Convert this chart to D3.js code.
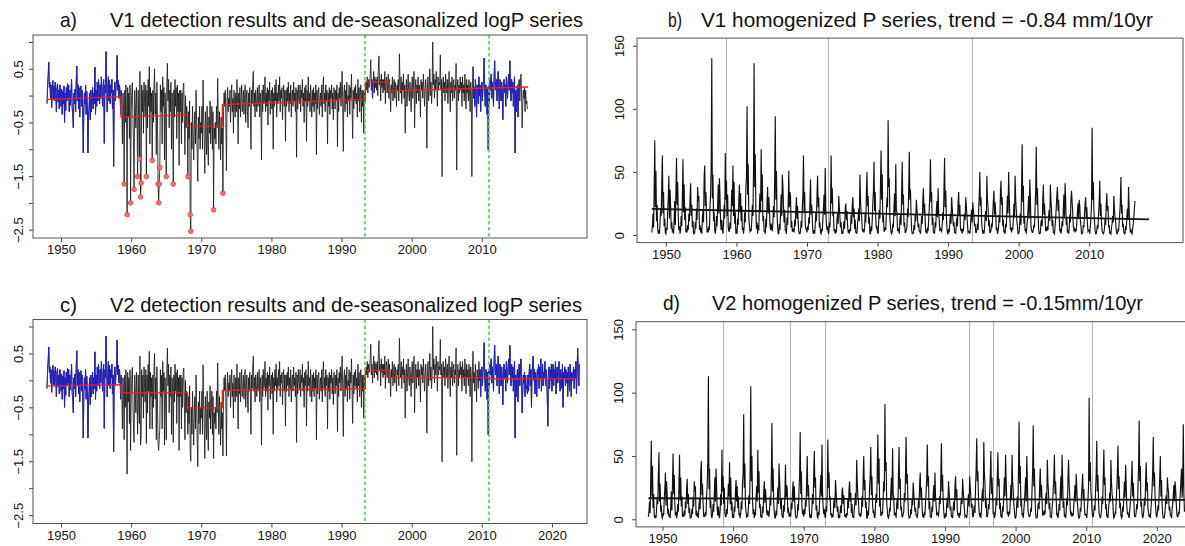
<!DOCTYPE html>
<html><head><meta charset="utf-8">
<script src="https://cdn.jsdelivr.net/npm/d3@7"></script>
<style>
html,body{margin:0;padding:0;background:#fff;}
svg{display:block;}
text{font-family:"Liberation Sans",Arial,sans-serif;}
</style></head><body>
<svg id="chart" width="1185" height="546"></svg>
<script>
// ---------- DATA (monthly, starting Jan 1948) ----------
const startYear = 1948;

// V1 de-seasonalized logP series, Jan 1948 - Jul 2016 (outliers included)
const logP_V1 = [
-.15,.2,.38,.62,.15,.25,-.05,.2,-.22,.1,.28,-.08,
.18,-.1,.25,.05,-.3,.15,.22,-.12,.1,-.25,.2,.05,
-.2,.12,-.35,.08,-.15,.18,-.5,.05,-.28,.15,-.1,.22,
-.05,.2,-.3,.1,-.18,.05,.3,-.22,-.35,-.6,.05,-.15,
.12,-.3,.28,.55,-.1,.2,-.25,.15,-.4,.05,.18,-.2,
.1,-.25,-1.07,-.3,.05,-.15,.2,-.35,.08,-.2,-1.07,-.4,
-.2,.05,-.45,.1,-.3,-.1,.15,-.25,.05,-.15,.53,-.35,
.1,-.2,.25,-.1,.3,.12,-.15,.2,-.05,.35,.1,-.2,
.15,.3,-.89,.2,.05,.82,.25,-.3,.1,.35,-.1,.28,
-.15,.2,.05,.3,-.25,.1,-1.32,.05,.25,-.1,.15,.3,
.75,.1,.28,-.05,.2,.05,-.35,.1,-.2,-.9,.05,-.3,
-1.65,.1,-.5,.2,-.3,-2.22,.15,-.4,.05,-.8,.2,-2.0,
-.3,.05,.24,-.4,-.9,-1.75,.1,-.2,-.6,.15,-.35,-1.51,
.1,-.5,-1.18,.45,-1.89,-1.63,.2,-.3,.1,-.7,.25,-.15,
-.4,.2,-1.51,.1,-.6,.3,-.2,.54,-.9,.15,-.3,.05,
-1.21,.1,-.5,.2,.5,-.35,.05,-1.1,.25,-.4,-1.65,-2.0,
-1.65,-1.34,.2,-.3,.1,-.9,.35,-.2,.15,-1.2,.05,-.4,
-1.51,.2,.6,-.1,.3,-.6,.1,-.3,.25,-1.0,.05,-.2,
-1.65,.1,-.4,.3,-.2,.15,-.8,.2,-.3,.05,-1.3,.1,
-.3,.1,-.9,.05,-.5,.15,.23,-.4,-1.1,0,-.6,-.2,
-.4,-1.51,-.3,-.8,-.1,-2.22,-2.53,-.5,-1.0,-.2,-.7,-1.2,
-.6,-.3,-.9,.1,-.5,-1.1,-1.6,-.4,-.8,-.2,-1.0,-.5,
-.7,-.2,-1.0,.29,-.4,-.8,-1.45,-.3,-.6,-1.1,-.2,-.9,
-1.3,-.4,-.7,-.1,-.9,-.5,-.2,-1.0,-.3,-2.13,-.6,-.8,
-.5,-.9,-.2,-.6,.32,-.4,-1.0,-.3,-.7,-1.2,-.4,-.9,
-.6,-1.82,-.3,.05,-.2,.1,-.4,-1.4,-.1,.15,-.3,-.05,
-.2,.1,-.5,-.1,.2,-.3,-.05,-.7,.1,-.2,-.4,.05,
-.3,.3,-.1,-.9,.05,-.25,.15,-.4,-.1,.2,-.3,-.15,
.1,-.35,-.05,.2,-.5,-.1,.1,-.3,-.6,.05,-.2,.15,
-.25,-1.0,.1,-.15,.25,.45,-.2,.05,-.4,.1,-.1,-.3,
.15,-.2,-.05,.2,-.4,.05,-.1,-1.2,.1,-.3,.2,-.15,
-.1,.35,-.3,.05,-.2,.15,-.55,.1,-.1,.25,-.35,0,
.1,-.25,.15,-1.0,.05,-.2,.2,-.1,.3,-.4,.05,-.15,
.2,-.1,.35,-.3,.1,-.05,.15,-.45,.05,.2,-.2,.1,
-.85,.1,-.2,.15,-.1,.25,-.3,.05,-.15,.2,-.4,0,
.1,-.2,.25,-.1,.05,-.3,.15,-1.15,.1,-.25,.2,-.05,
-.15,.2,-.3,.1,-.05,.3,-.2,.05,-.5,.15,-.1,.2,
-.85,.1,-.2,.35,-.1,.05,-.3,.2,-.05,-.4,.1,-.2,
.15,-.3,.05,-.15,.2,-1.1,.1,-.25,.05,.15,-.35,-.1,
.05,-.2,.2,-.4,.1,.35,-.15,.05,-.3,.2,-.1,.1,
-.9,.05,-.2,.15,-.35,.1,-.05,.2,-.25,.05,-.45,.15,
.05,-.25,.1,-.1,.2,-.95,.05,-.3,.15,-.05,.25,-.2,
.1,.45,-.2,-1.04,.05,.2,-.3,.1,-.15,.25,-.4,0,
-.1,.2,-.35,.15,-.05,.4,-.2,-.8,.1,-.25,.15,-.1,
.2,-.15,.05,-.4,.3,-.1,.15,-.3,.05,.2,-.5,.1,
-.2,.1,-.7,.05,-.15,.15,.25,.1,.35,.05,.3,.15,
.2,.4,.67,.1,.3,-.05,.25,.45,.05,.35,.15,.3,
.1,.35,0,.5,.74,.2,.3,-.1,.4,.15,.3,.05,
.3,.1,.45,-.15,.25,.35,.05,.2,.4,-.05,.3,.1,
-.3,.2,.05,.35,-.1,.15,.3,-.05,.25,.1,-.2,.2,
.1,.3,-.1,.78,.2,.05,.35,-.15,.25,.1,.4,-.05,
.2,-.7,.1,.3,-.2,.15,.4,.05,-.1,.25,.1,-.3,
.15,.35,-.05,.2,.45,-.6,.1,.3,-.15,.2,.05,.35,
-.1,.2,.05,-.4,.3,.1,.25,-.05,.4,.15,-.2,.1,
.3,.05,-.98,.2,.35,-.1,.15,.5,0,.25,-.15,.1,
1.0,.2,.4,-.05,.3,.1,.45,.2,-.2,.35,.1,.25,
.2,.76,.1,.3,-1.51,.15,.35,.05,.25,-.1,.4,.2,
.05,.3,-.15,.2,.45,.1,-.3,.25,.05,.35,-.1,.2,
.3,-.05,.2,.1,.6,-1.39,.15,.3,-.1,.2,.05,.35,
.1,.25,-.2,.35,.05,.2,-.1,.4,.15,-.25,.3,.05,
.2,-.1,.3,.1,-.3,.25,.05,-1.51,.2,.54,-.05,.15,
-.2,.3,.05,-.4,.2,.1,-.15,.35,0,.2,-.3,.1,
.25,-.1,.15,.3,.7,.05,-.2,.2,.1,-.35,.15,-1.01,
.2,-.15,.3,.1,.4,-.05,.25,.1,-.2,.35,.65,.2,
.1,.3,-.1,.2,.45,.05,-.25,.3,.15,-.1,.25,.05,
-.45,.15,.3,.05,.2,-.2,.35,.1,-.05,.25,.4,.1,
.65,.2,-.1,.3,.05,.25,-.2,.15,.35,-1.07,.1,-.3,
.05,.2,-.4,.15,.3,-.1,.2,.4,.05,-.6,-.2,.1,
-.05,.15,-.3,.1,-.15,-.1,-.25
];

// detected outliers (year, month) and their V2-adjusted values
const outlierYear  = [1959,1959,1959,1960,1960,1961,1961,1961,1962,1963,1963,1963,1964,1964,1965,1966,1968,1968,1968,1971,1973];
const outlierMonth = [1,6,12,6,12,3,5,6,3,1,11,12,1,2,1,1,2,6,7,10,2];
const outlierAdjV2 = [-1.1,-1.74,-1.3,-1.15,-1.0,-.8,-1.2,-1.05,-1.17,-.9,-1.17,-1.3,-1.1,-.9,-1.1,-1.15,-1.0,-1.35,-1.5,-1.45,-1.4];

// V2 logP continuation, Aug 2016 - Dec 2023
const logP_V2_tail = [
.1,-.2,.15,.3,-.1,
.2,-.5,.1,.3,.45,0,.2,-.25,.15,.05,-.3,.2,
.1,.3,-.15,.25,.05,.4,-.2,.1,.3,-.1,.15,.05,
.35,-.1,.2,.05,-.3,-.85,.1,.25,-.15,.2,0,.3,
-.2,.15,.3,-.1,.2,.05,.35,-.25,.1,.25,-.05,.15,
.35,.05,-.2,.2,.1,-.15,.3,-.5,.15,.05,.25,-.1,
.2,-.05,.15,-.3,.25,.1,-.2,.3,.05,-.3,.15,0,
.1,.25,-.15,.2,.05,.35,-.25,.15,.6,.2,-.1,.3
];

// V1 homogenized P (mm), Jan 1948 - Jul 2016
const P_V1 = [
2,7,17,6,36,75,22,51,11,24,5,1,
4,1,10,21,15,42,63,17,34,7,13,2,
1,6,4,19,29,47,13,36,23,5,10,2,
5,1,11,27,8,34,61,24,42,15,4,7,
1,4,15,7,31,60,18,40,12,22,2,5,
2,8,4,17,11,29,41,15,24,6,11,1,
1,2,10,5,21,12,38,27,31,4,8,2,
6,1,13,19,10,46,55,23,34,16,2,5,
2,7,4,22,33,54,140,29,48,11,18,4,
1,5,15,7,23,40,17,45,31,10,4,12,
4,1,8,24,13,65,28,43,15,32,6,3,
3,10,5,19,36,23,55,15,42,9,18,1,
5,1,13,8,28,40,18,33,11,23,4,6,
1,6,18,10,37,46,102,32,56,14,8,3,
4,3,11,24,15,51,136,38,64,19,5,10,
1,8,4,22,33,18,68,27,48,11,15,3,
3,1,13,6,27,38,17,30,22,8,4,9,
5,3,10,23,14,44,94,28,51,18,6,1,
1,9,4,18,32,15,48,39,23,10,20,4,
3,1,14,8,24,51,22,34,30,6,11,3,
3,5,2,12,7,20,30,13,23,10,3,1,
1,3,11,6,22,31,63,18,34,9,5,5,
2,7,4,14,9,27,44,16,24,12,3,1,
4,1,8,18,11,32,47,22,30,6,10,2,
1,5,3,13,22,32,16,53,19,8,4,7,
2,1,10,6,20,63,25,37,15,18,3,5,
1,4,2,12,17,9,31,22,14,6,10,1,
3,1,7,11,5,21,25,12,19,8,2,4,
1,5,3,16,9,24,30,14,21,5,12,2,
2,1,9,13,21,11,48,29,18,15,4,3,
4,2,6,18,10,32,50,23,31,9,14,1,
1,7,3,12,26,35,58,19,34,12,5,6,
2,1,11,20,13,40,67,28,48,10,16,3,
3,6,4,17,30,22,91,38,45,13,7,2,
1,3,9,6,22,33,15,56,20,18,3,5,
5,1,12,16,8,35,58,24,32,7,10,2,
2,4,6,21,14,37,66,28,36,16,4,1,
1,2,8,4,16,11,28,21,14,6,9,3,
3,1,6,15,9,28,37,17,25,12,2,4,
1,6,3,13,21,33,60,26,34,8,14,2,
2,1,10,6,19,27,14,37,18,11,3,5,
4,3,8,18,12,36,61,22,35,15,6,1,
1,5,2,11,17,9,30,22,14,7,10,2,
2,1,9,14,7,26,34,15,24,6,3,5,
1,4,3,11,17,12,30,23,16,8,2,3,
3,1,6,14,20,10,26,20,14,7,9,2,
2,5,9,4,20,31,50,23,30,11,5,2,
3,1,5,15,19,11,47,28,22,7,12,2,
2,4,9,6,17,27,35,16,26,17,4,6,
1,3,7,16,10,33,43,24,30,7,12,2,
3,1,9,6,20,31,17,50,29,15,4,5,
2,6,4,13,25,14,47,28,20,11,7,1,
1,3,11,17,8,37,72,26,39,9,15,3,
5,1,7,12,20,31,13,44,29,7,4,2,
2,4,8,6,22,35,70,24,37,18,5,1,
1,2,10,12,7,27,40,16,25,14,3,6,
3,7,4,15,20,11,40,27,20,7,12,2,
2,1,7,13,22,31,38,19,28,15,3,4,
1,4,11,7,21,32,14,41,29,8,13,2,
3,1,6,16,10,28,35,26,18,7,4,5,
2,5,3,11,18,25,13,28,23,12,7,1,
1,2,8,6,17,24,30,14,22,9,3,4,
4,1,7,14,24,85,28,42,20,12,4,1,
1,4,8,5,17,25,43,15,25,10,3,2,
1,2,5,13,8,24,33,19,23,6,8,1,
2,1,6,9,15,10,31,20,14,11,4,1,
1,4,3,10,17,26,46,17,24,6,9,2,
1,1,7,4,14,21,12,38,20,8,3,4,
2,1,5,9,15,22,27
];

// V2 homogenized P (mm), Jan 1948 - Dec 2023
const P_V2 = [
2,6,14,5,30,62,18,42,9,20,4,1,
3,1,8,17,12,35,53,14,28,6,11,2,
1,5,3,16,24,37,11,30,19,4,8,2,
4,1,9,22,7,28,52,20,35,12,3,6,
1,3,12,6,26,51,15,33,10,18,2,4,
2,7,3,14,9,24,32,12,20,5,9,1,
1,2,8,4,17,10,30,22,26,3,7,2,
5,1,11,16,8,38,46,19,28,13,2,4,
2,6,3,18,27,45,113,24,40,9,15,3,
1,4,12,6,19,33,14,40,26,8,3,10,
3,1,7,20,11,55,22,34,12,25,5,2,
2,8,4,15,28,18,45,12,33,7,14,1,
4,1,10,6,22,31,14,26,9,18,3,5,
1,5,14,8,29,36,83,25,44,11,6,2,
3,2,9,19,12,40,105,30,50,15,4,8,
1,6,3,17,26,14,55,21,38,9,12,2,
2,1,10,5,21,30,13,24,17,6,3,7,
4,2,8,18,11,35,76,22,40,14,5,1,
1,7,3,14,25,12,44,31,18,8,16,3,
2,1,11,6,19,43,17,27,24,5,9,2,
3,5,2,13,8,22,30,14,26,11,3,1,
1,3,12,7,24,34,69,20,38,10,5,6,
2,8,4,15,10,30,50,18,27,13,3,1,
4,1,9,20,12,36,54,25,33,7,11,2,
1,6,3,14,24,35,18,59,21,9,4,8,
2,1,10,6,20,63,25,37,15,18,3,5,
1,4,2,12,17,9,31,22,14,6,10,1,
3,1,7,11,5,21,25,12,19,8,2,4,
1,5,3,16,9,24,30,14,21,5,12,2,
2,1,9,13,21,11,47,29,18,15,4,3,
4,2,6,18,10,32,50,23,31,9,14,1,
1,7,3,12,26,35,57,19,34,12,5,6,
2,1,11,20,13,40,67,28,48,10,16,3,
3,6,4,17,30,22,91,38,45,13,7,2,
1,3,9,6,22,33,15,56,20,18,3,5,
5,1,12,16,8,35,57,24,32,7,10,2,
2,4,6,21,14,37,65,28,36,16,4,1,
1,2,8,4,16,11,29,21,14,6,9,3,
3,1,6,15,9,28,37,17,25,12,2,4,
1,6,3,13,21,33,59,26,34,8,14,2,
2,1,10,6,19,27,14,37,18,11,3,5,
4,3,8,18,12,36,60,22,35,15,6,1,
1,5,2,11,17,9,30,22,14,7,10,2,
2,1,9,14,7,26,34,15,24,6,3,5,
1,4,3,11,17,12,32,23,16,8,2,3,
3,1,6,14,20,10,34,25,18,9,12,2,
2,7,11,5,26,40,64,30,38,14,6,3,
4,1,7,19,24,14,61,36,28,9,15,2,
2,5,12,8,22,34,54,20,33,18,4,6,
1,3,7,17,11,35,53,26,32,8,13,2,
3,1,10,6,22,33,18,51,31,16,4,5,
2,6,4,14,27,15,51,30,22,12,7,1,
1,3,12,18,9,40,77,28,42,10,16,3,
5,1,7,13,22,33,14,50,31,8,4,2,
2,4,9,6,24,38,74,26,40,19,5,1,
1,2,11,13,8,29,40,17,27,15,3,6,
3,7,4,16,21,12,47,29,22,8,13,2,
2,1,8,14,24,33,51,20,30,16,3,4,
1,4,12,7,23,34,15,51,31,9,14,2,
3,1,6,17,11,30,47,28,19,7,4,5,
2,5,3,12,19,27,14,36,25,13,7,1,
1,2,9,6,18,26,36,15,24,10,3,4,
4,1,8,15,26,96,30,45,21,17,6,2,
2,6,11,7,24,36,62,22,35,14,4,3,
1,3,7,18,12,34,55,27,33,8,12,2,
3,1,9,13,21,14,47,29,20,16,5,1,
2,5,4,14,24,37,58,24,34,9,13,3,
1,2,10,6,20,30,17,43,28,11,4,5,
3,1,7,13,21,31,46,18,29,15,3,2,
2,6,12,8,26,41,78,30,42,10,14,4,
1,3,7,17,11,31,45,22,29,8,5,2,
4,1,8,14,24,38,65,26,37,19,9,3,
2,5,11,7,22,33,50,18,31,12,4,1,
1,2,6,15,19,12,33,25,21,7,10,3,
3,1,8,12,19,27,14,30,24,13,4,2,
2,6,4,13,22,30,40,17,28,75,20,6
];

// step means (red), breakpoints and trend lines
const stepTimesA = [1948.0, 1958.55, 1968.05, 1973.0, 1993.4, 1996.8, 2016.6];
const stepFromA  = [-0.07, -0.40, -0.57, -0.17, 0.25, 0.09];
const stepToA    = [-0.02, -0.36, -0.57, -0.07, 0.25, 0.16];
const stepTimesC = [1948.0, 1958.55, 1968.05, 1973.0, 1993.4, 1996.8, 2011.0, 2023.92];
const stepFromC  = [-0.105, -0.23, -0.51, -0.185, 0.185, 0.05, 0.03];
const stepToC    = [-0.08, -0.23, -0.51, -0.155, 0.185, 0.05, 0.03];
const greenBreaks = [1993.4, 2011.0];
const grayBreaksB = [1958.5, 1973.0, 1993.4];
const grayBreaksD = [1958.5, 1968.0, 1973.0, 1993.4, 1996.8, 2010.8];
const blueSpansA = [[1948.0, 1958.55], [1994.2, 1994.5], [2008.7, 2015.4]];
const blueSpansC = [[1948.0, 1958.55], [2009.6, 2023.92]];
const trendTimesB = [1948.0, 2018.5], trendValsB = [20.7, 12.4];
const trendTimesD = [1948.0, 2024.5], trendValsD = [16.6, 15.3];

const yearTicksAB = [1950,1960,1970,1980,1990,2000,2010];
const yearTicksCD = [1950,1960,1970,1980,1990,2000,2010,2020];
const logTicks = [1.0,0.5,0,-0.5,-1.0,-1.5,-2.0,-2.5];
const logLabels = [0.5,-0.5,-1.5,-2.5];
const pTicks = [0,50,100,150];

const titles = {
  a: ["a)", "V1 detection results and de-seasonalized logP series"],
  b: ["b)", "V1 homogenized P series, trend = -0.84 mm/10yr"],
  c: ["c)", "V2 detection results and de-seasonalized logP series"],
  d: ["d)", "V2 homogenized P series, trend = -0.15mm/10yr"]
};

// ---------- BUILD ----------
const svg = d3.select("#chart");
const toSeries = vals => vals.map((v, i) => ({t: startYear + i / 12, v}));
const snap = v => Math.round(v) + 0.5;

const logP_V2 = logP_V1.slice();
outlierYear.forEach((yr, k) => { logP_V2[(yr - startYear) * 12 + outlierMonth[k] - 1] = outlierAdjV2[k]; });
const logP_V2_full = logP_V2.concat(logP_V2_tail);
const outliers = outlierYear.map((yr, k) => {
  const i = (yr - startYear) * 12 + outlierMonth[k] - 1;
  return {t: startYear + i / 12, v: logP_V1[i]};
});

function panel(o) {
  const x = d3.scaleLinear().domain(o.xDomain).range([o.x0, o.x1]);
  const y = d3.scaleLinear().domain(o.yDomain).range([o.y1, o.y0]);
  const id = "clip" + o.key;
  svg.append("clipPath").attr("id", id).append("rect")
    .attr("x", o.x0).attr("y", o.y0).attr("width", o.x1 - o.x0).attr("height", o.y1 - o.y0);
  const g = svg.append("g");
  const plot = g.append("g").attr("clip-path", `url(#${id})`);

  const ax = g.append("g").attr("transform", `translate(0,${o.y1})`)
    .call(d3.axisBottom(x).tickValues(o.xTicks).tickSize(4).tickFormat(d3.format("d")));
  ax.select(".domain").remove();
  ax.selectAll("line").attr("stroke", "#444");
  ax.selectAll("text").attr("y", 16).attr("dy", null).attr("font-size", 13).attr("fill", "#111");

  const ay = g.append("g").attr("transform", `translate(${o.x0},0)`)
    .call(d3.axisLeft(y).tickValues(o.yTicks).tickSize(4).tickFormat(o.yFmt));
  ay.select(".domain").remove();
  ay.selectAll("line").attr("stroke", "#444");
  ay.selectAll("text").attr("x", null).attr("dy", null).attr("font-size", 13).attr("fill", "#111")
    .attr("text-anchor", "middle").attr("transform", `translate(${-o.yOff},0) rotate(-90)`);

  g.append("rect").attr("x", o.x0).attr("y", o.y0).attr("width", o.x1 - o.x0).attr("height", o.y1 - o.y0)
    .attr("fill", "none").attr("stroke", "#555").attr("stroke-width", 1);

  const tt = titles[o.key];
  [0, 1].forEach(k => g.append("text").attr("x", o.tx[k]).attr("y", o.ty).attr("font-size", 21).attr("fill", "#111")
    .attr("textLength", o.tw[k]).attr("lengthAdjust", "spacingAndGlyphs")
    .style("font-family", '"Liberation Sans Narrow","Liberation Sans",Arial,sans-serif').text(tt[k]));
  return {x, y, plot};
}

const line = (x, y) => d3.line().x(d => x(d.t)).y(d => y(d.v));
const fmtLog = d => logLabels.includes(d) ? d3.format(".1f")(d) : "";

function logPanel(o, series, blueSpans, stepT, stepF, stepE, withOutliers) {
  const {x, y, plot} = panel(o);
  const data = toSeries(series);
  plot.append("path").datum(data).attr("d", line(x, y)).attr("fill", "none")
    .attr("stroke", "#1a1a1a").attr("stroke-width", 0.85);
  blueSpans.forEach(([a, b]) => {
    const seg = data.filter(d => d.t >= a - 1e-6 && d.t <= b + 1e-6);
    plot.append("path").datum(seg).attr("d", line(x, y)).attr("fill", "none")
      .attr("stroke", "#1f1fd6").attr("stroke-width", 0.85);
  });
  greenBreaks.forEach(b => plot.append("line").attr("x1", Math.round(x(b))).attr("x2", Math.round(x(b)))
    .attr("y1", o.y0).attr("y2", o.y1).attr("stroke", "#5ccc5c").attr("stroke-width", 1.6)
    .attr("stroke-dasharray", "3.5,2.5"));
  const steps = [];
  stepF.forEach((v, i) => { steps.push({t: stepT[i], v}); steps.push({t: stepT[i + 1], v: stepE[i]}); });
  plot.append("path").datum(steps).attr("d", line(x, y)).attr("fill", "none")
    .attr("stroke", "#f02020").attr("stroke-width", 1.3);
  if (withOutliers) {
    plot.selectAll("circle.o").data(outliers).enter().append("circle")
      .attr("cx", d => x(d.t)).attr("cy", d => y(d.v)).attr("r", 2.3)
      .attr("fill", "#f47474").attr("stroke", "#e03a3a").attr("stroke-width", 0.8);
  }
}

function pPanel(o, series, grays, tT, tV) {
  const {x, y, plot} = panel(o);
  grays.forEach(b => plot.append("line").attr("x1", snap(x(b))).attr("x2", snap(x(b)))
    .attr("y1", o.y0).attr("y2", o.y1).attr("stroke", "#b4b4b4").attr("stroke-width", 1));
  plot.append("path").datum(toSeries(series)).attr("d", line(x, y)).attr("fill", "none")
    .attr("stroke", "#111").attr("stroke-width", 1.15);
  plot.append("path").datum(tT.map((t, i) => ({t, v: tV[i]}))).attr("d", line(x, y))
    .attr("fill", "none").attr("stroke", "#111").attr("stroke-width", 1.8);
}

logPanel({key: "a", x0: 33, x1: 587, y0: 35, y1: 238, xDomain: [1946.0, 2025.0], yDomain: [-2.655, 1.13],
  xTicks: yearTicksAB, yTicks: logTicks, yFmt: fmtLog, yOff: 10.5,
  tx: [60, 110], tw: [17, 473], ty: 26.5}, logP_V1, blueSpansA, stepTimesA, stepFromA, stepToA, true);

logPanel({key: "c", x0: 33, x1: 587, y0: 319.5, y1: 523.5, xDomain: [1946.0, 2025.0], yDomain: [-2.655, 1.13],
  xTicks: yearTicksCD, yTicks: logTicks, yFmt: fmtLog, yOff: 10.5,
  tx: [60, 110], tw: [17, 472], ty: 311.5}, logP_V2_full, blueSpansC, stepTimesC, stepFromC, stepToC, false);

pPanel({key: "b", x0: 637, x1: 1183, y0: 38.1, y1: 242.6, xDomain: [1945.9, 2023.3], yDomain: [-6, 156],
  xTicks: yearTicksAB, yTicks: pTicks, yFmt: d3.format("d"), yOff: 13.5,
  tx: [668, 701], tw: [14, 452], ty: 26.5}, P_V1, grayBreaksB, trendTimesB, trendValsB);

pPanel({key: "d", x0: 636, x1: 1190, y0: 321.7, y1: 526.9, xDomain: [1946.25, 2024.7], yDomain: [-6, 156],
  xTicks: yearTicksCD, yTicks: pTicks, yFmt: d3.format("d"), yOff: 13.5,
  tx: [663, 712], tw: [17, 431], ty: 310}, P_V2, grayBreaksD, trendTimesD, trendValsD);
</script>
</body></html>
